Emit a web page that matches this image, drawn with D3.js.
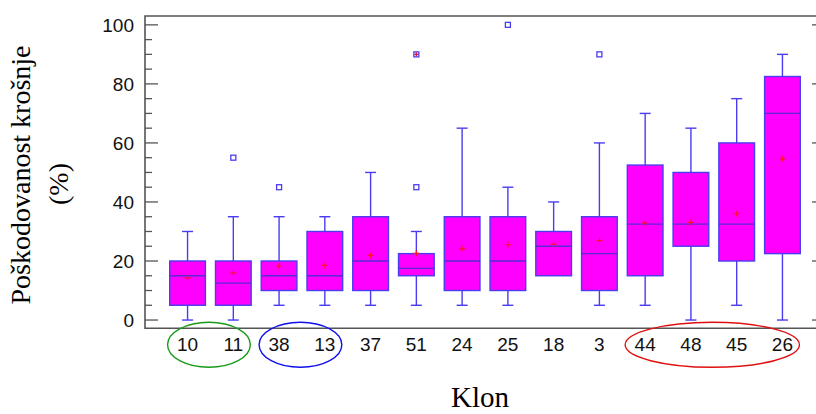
<!DOCTYPE html>
<html>
<head>
<meta charset="utf-8">
<script src="https://cdn.jsdelivr.net/npm/d3@7"></script>
<style>
	body { margin: 0; background: #fff; }
	svg { display: block; }
</style>
</head>
<body>
<div id="chart"></div>
<script>
// values
var clones = ["10", "11", "38", "13", "37", "51", "24", "25", "18", "3", "44", "48", "45", "26"];
var whiskerLow = [0, 0, 5, 5, 5, 5, 5, 5, 15, 5, 5, 0, 5, 0];
var q1 = [5, 5, 10, 10, 10, 15, 10, 10, 15, 10, 15, 25, 20, 22.5];
var medians = [15, 12.5, 15, 15, 20, 17.5, 20, 20, 25, 22.5, 32.5, 32.5, 32.5, 70];
var q3 = [20, 20, 20, 30, 35, 22.5, 35, 35, 30, 35, 52.5, 50, 60, 82.5];
var whiskerHigh = [30, 35, 35, 35, 50, 30, 65, 45, 40, 60, 70, 65, 75, 90];
var means = [14.3, 16.0, 18.3, 18.5, 21.9, 22.6, 24.2, 25.5, 25.6, 26.9, 32.8, 33.1, 36, 54.6];

var outlierClones = ["11", "38", "51", "51", "25", "3"];
var outlierValues = [55, 45, 45, 90, 100, 90];
var outlierFar = [false, false, false, true, false, false];

var yTicks = [0, 20, 40, 60, 80, 100];

// circled groups under the axis
var groupFirst = ["10", "38", "44"];
var groupLast = ["11", "13", "26"];
var groupColors = ["#1a9a1a", "#1010ee", "#e01010"];

var width = 816, height = 414;
var plotLeft = 145, plotRight = 825, plotTop = 16, plotBottom = 328.3;

var boxStroke = "#4a3cf0";
var axisColor = "#555";

var svg = d3.select("#chart").append("svg")
	.attr("width", width)
	.attr("height", height);

var x = d3.scaleBand()
	.domain(clones)
	.range([plotLeft, plotRight])
	.paddingInner(0.22)
	.paddingOuter(0.54);

var y = d3.scaleLinear()
	.domain([-2.8, 103])
	.range([plotBottom, plotTop]);

var cx = function(c) { return x(c) + x.bandwidth() / 2; };

var rows = clones.map(function(c, i) {
	return {clone: c, lo: whiskerLow[i], q1: q1[i], med: medians[i], q3: q3[i], hi: whiskerHigh[i], mean: means[i]};
});

// frame: left, top, bottom lines
svg.append("path")
	.attr("d", "M" + plotRight + "," + plotTop + "H" + plotLeft + "V" + plotBottom + "H" + plotRight)
	.attr("fill", "none")
	.attr("stroke", axisColor)
	.attr("stroke-width", 1.6);

// left axis, ticks inside
var minorTicks = d3.range(0, 101, 5);
svg.append("g").selectAll("line")
		.data(minorTicks)
	.enter().append("line")
		.attr("x1", plotLeft)
		.attr("x2", function(d) { return plotLeft + (d % 20 === 0 ? 13 : 7); })
		.attr("y1", function(d) { return y(d); })
		.attr("y2", function(d) { return y(d); })
		.attr("stroke", axisColor)
		.attr("stroke-width", 1.3);

// right axis (mostly off the edge)
svg.append("g").selectAll("line")
		.data(minorTicks)
	.enter().append("line")
		.attr("x1", plotRight)
		.attr("x2", function(d) { return plotRight - (d % 20 === 0 ? 13 : 7); })
		.attr("y1", function(d) { return y(d); })
		.attr("y2", function(d) { return y(d); })
		.attr("stroke", axisColor)
		.attr("stroke-width", 1.3);

svg.append("g").selectAll("text")
		.data(yTicks)
	.enter().append("text")
		.attr("x", plotLeft - 11)
		.attr("y", function(d) { return y(d); })
		.attr("dy", "0.36em")
		.attr("text-anchor", "end")
		.style("font", "19px 'Liberation Sans', Arial, sans-serif")
		.style("fill", "#111")
		.text(function(d) { return d; });

// x labels
svg.append("g").selectAll("text")
		.data(clones)
	.enter().append("text")
		.attr("x", cx)
		.attr("y", 351)
		.attr("text-anchor", "middle")
		.style("font", "19px 'Liberation Sans', Arial, sans-serif")
		.style("fill", "#111")
		.text(function(d) { return d; });

// whiskers
var capW = 11;
var box = svg.append("g").selectAll("g")
		.data(rows)
	.enter().append("g");

box.each(function(d) {
	var g = d3.select(this);
	var c = cx(d.clone);
	if (d.hi > d.q3) {
		g.append("line").attr("x1", c).attr("x2", c).attr("y1", y(d.q3)).attr("y2", y(d.hi));
		g.append("line").attr("x1", c - capW / 2).attr("x2", c + capW / 2).attr("y1", y(d.hi)).attr("y2", y(d.hi));
	}
	if (d.lo < d.q1) {
		g.append("line").attr("x1", c).attr("x2", c).attr("y1", y(d.q1)).attr("y2", y(d.lo));
		g.append("line").attr("x1", c - capW / 2).attr("x2", c + capW / 2).attr("y1", y(d.lo)).attr("y2", y(d.lo));
	}
	g.selectAll("line").attr("stroke", boxStroke).attr("stroke-width", 1.4);
});

box.append("rect")
	.attr("x", function(d) { return x(d.clone); })
	.attr("width", x.bandwidth())
	.attr("y", function(d) { return y(d.q3); })
	.attr("height", function(d) { return y(d.q1) - y(d.q3); })
	.attr("fill", "#ff00ff")
	.attr("stroke", boxStroke)
	.attr("stroke-width", 1.4);

box.append("line")
	.attr("x1", function(d) { return x(d.clone); })
	.attr("x2", function(d) { return x(d.clone) + x.bandwidth(); })
	.attr("y1", function(d) { return y(d.med); })
	.attr("y2", function(d) { return y(d.med); })
	.attr("stroke", "#5a2ad0")
	.attr("stroke-width", 1.4);

// mean markers
box.append("path")
	.attr("d", function(d) {
		var px = cx(d.clone), py = y(d.mean);
		return "M" + (px - 3) + "," + py + "H" + (px + 3) + "M" + px + "," + (py - 3) + "V" + (py + 3);
	})
	.attr("stroke", "#ff1030")
	.attr("stroke-width", 1.2);

// outliers
var outliers = outlierClones.map(function(c, i) {
	return {clone: c, value: outlierValues[i], far: outlierFar[i]};
});

var out = svg.append("g").selectAll("g")
		.data(outliers)
	.enter().append("g")
		.attr("transform", function(d) { return "translate(" + cx(d.clone) + "," + y(d.value) + ")"; });

out.append("rect")
	.attr("x", -2.5).attr("y", -2.5)
	.attr("width", 5).attr("height", 5)
	.attr("fill", "#fff")
	.attr("stroke", boxStroke)
	.attr("stroke-width", 1.3);

out.filter(function(d) { return d.far; })
	.append("path")
		.attr("d", "M-2,0H2M0,-2V2")
		.attr("stroke", "#e01040")
		.attr("stroke-width", 1.4);

// group ellipses
svg.append("g").selectAll("ellipse")
		.data(groupFirst)
	.enter().append("ellipse")
		.attr("cx", function(d, i) { return (cx(d) + cx(groupLast[i])) / 2 - 1.5; })
		.attr("cy", 344.8)
		.attr("rx", function(d, i) { return (cx(groupLast[i]) - cx(d)) / 2 + 18.5; })
		.attr("ry", 22.5)
		.attr("fill", "none")
		.attr("stroke", function(d, i) { return groupColors[i]; })
		.attr("stroke-width", 1.4);

// axis titles
svg.append("text")
	.attr("transform", "translate(30,175) rotate(-90)")
	.attr("text-anchor", "middle")
	.style("font", "28px 'Liberation Serif', 'Times New Roman', serif")
	.style("fill", "#000")
	.text("Poškodovanost krošnje");

svg.append("text")
	.attr("transform", "translate(68,184) rotate(-90)")
	.attr("text-anchor", "middle")
	.style("font", "28px 'Liberation Serif', 'Times New Roman', serif")
	.style("fill", "#000")
	.text("(%)");

svg.append("text")
	.attr("x", 480)
	.attr("y", 407)
	.attr("text-anchor", "middle")
	.style("font", "29px 'Liberation Serif', 'Times New Roman', serif")
	.style("fill", "#000")
	.text("Klon");
</script>
</body>
</html>
